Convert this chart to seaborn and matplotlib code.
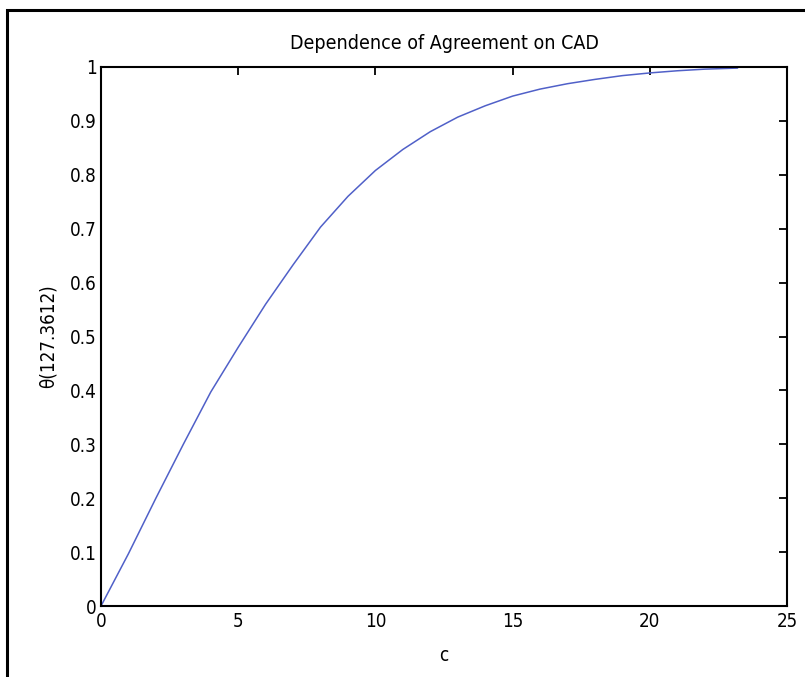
import matplotlib
matplotlib.use("Agg")
import matplotlib.pyplot as plt
import seaborn as sns
import pandas as pd
from matplotlib.patches import Rectangle

c_vals = [0, 1, 2, 3, 4, 5, 6, 7, 8, 9, 10, 11, 12, 13, 14, 15, 16, 17, 18, 19, 20, 21, 22, 23.2]
theta_vals = [0.0, 0.097, 0.2, 0.3, 0.397, 0.48, 0.56, 0.633, 0.703, 0.76, 0.808, 0.847, 0.88, 0.907,
              0.928, 0.946, 0.959, 0.969, 0.977, 0.984, 0.989, 0.993, 0.996, 0.998]
x_ticks = [0, 5, 10, 15, 20, 25]
y_ticks = [0, 0.1, 0.2, 0.3, 0.4, 0.5, 0.6, 0.7, 0.8, 0.9, 1]
y_ticklabels = ["0", "0.1", "0.2", "0.3", "0.4", "0.5", "0.6", "0.7", "0.8", "0.9", "1"]
title = "Dependence of Agreement on CAD"
xlabel = "c"
ylabel = "θ(127.3612)"

sns.set_style("white")
plt.rcParams['font.family'] = ['DejaVu Sans']
plt.rcParams['font.stretch'] = 'condensed'
plt.rcParams['text.color'] = 'black'
plt.rcParams['axes.labelcolor'] = 'black'

df = pd.DataFrame({"c": c_vals, "theta": theta_vals})

W, H = 805, 677
fig = plt.figure(figsize=(W / 100, H / 100), dpi=100)
ax = fig.add_axes([101 / W, 1 - 606 / H, (787 - 101) / W, (606 - 67) / H])

sns.lineplot(data=df, x="c", y="theta", ax=ax, color="#5060c8", linewidth=1.1)

ax.set_xlim(0, 25)
ax.set_ylim(0, 1)
ax.set_xticks(x_ticks)
ax.set_xticklabels([str(t) for t in x_ticks])
ax.set_yticks(y_ticks)
ax.set_yticklabels(y_ticklabels)
ax.tick_params(direction="in", length=6, width=1.3, top=True, right=True,
               labelsize=13.5, colors="black", pad=3)
ax.tick_params(axis="x", pad=4)
for s in ax.spines.values():
    s.set_visible(True)
    s.set_color("black")
    s.set_linewidth(1.5)
ax.set_title(title, fontsize=14, pad=13, color="black")
ax.set_xlabel(xlabel, fontsize=13.5, labelpad=11, color="black")
ax.set_ylabel(ylabel, fontsize=13.5, labelpad=9, color="black")

# outer frame
fig.patches.append(Rectangle((7 / W, -0.1), 1.2, 1 - 10 / H + 0.1, transform=fig.transFigure,
                             fill=False, edgecolor="black", linewidth=2.2))

fig.savefig("out.png", dpi=100, facecolor="white")
